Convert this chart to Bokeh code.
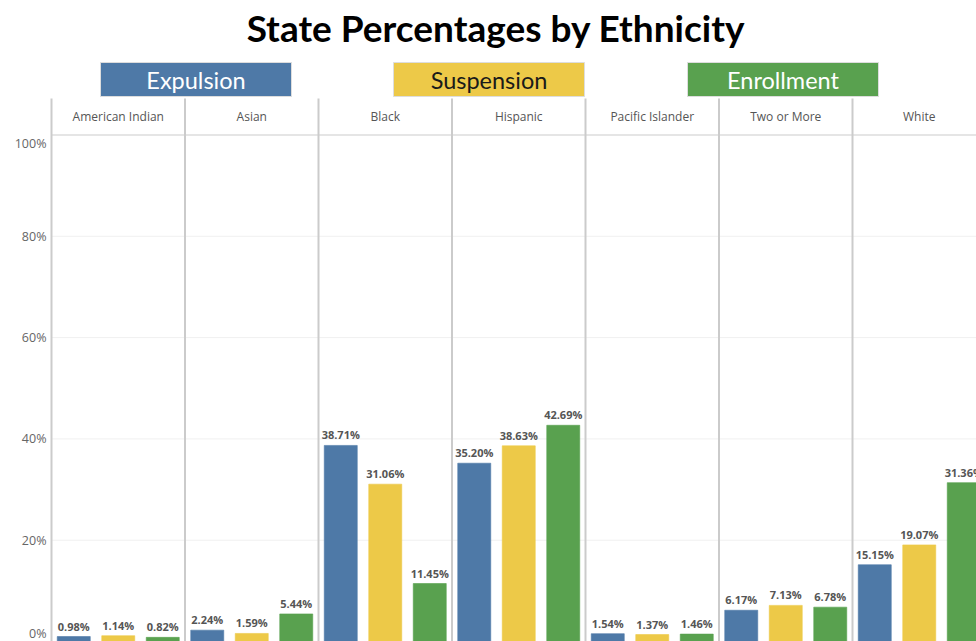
from bokeh.plotting import figure
from bokeh.models import Range1d, ColumnDataSource
from bokeh.embed import file_html
from bokeh.resources import INLINE
from bokeh.core.properties import value

# ---------------- data ----------------
ethnicities = ["American Indian", "Asian", "Black", "Hispanic",
               "Pacific Islander", "Two or More", "White"]
measures = ["Expulsion", "Suspension", "Enrollment"]
expulsion = [0.98, 2.24, 38.71, 35.20, 1.54, 6.17, 15.15]
suspension = [1.14, 1.59, 31.06, 38.63, 1.37, 7.13, 19.07]
enrollment = [0.82, 5.44, 11.45, 42.69, 1.46, 6.78, 31.36]
y_ticks = [0, 20, 40, 60, 80, 100]
y_tick_labels = [f"{t}%" for t in y_ticks]
title_text = "State Percentages by Ethnicity"

# ---------------- styles / layout ----------------
colors = ["#4e79a7", "#edc948", "#59a14f"]
legend_text_colors = ["#ffffff", "#1a1a1a", "#ffffff"]
W, H = 976, 641
PANEL_PX = 133.5          # width of one facet panel in px
LEFT_PX = 51              # distance from figure left to first panel
PX_PER_UNIT_Y = 5.065     # px per percent
TITLE_FONT = "Lato"
FONT = "Open Sans"

x_start = -LEFT_PX / PANEL_PX
x_end = x_start + W / PANEL_PX
y_end = H / PX_PER_UNIT_Y


def px_x(px):
    return (px - LEFT_PX) / PANEL_PX


def px_y(py):
    return (H - py) / PX_PER_UNIT_Y


p = figure(width=W, height=H, output_backend="svg", toolbar_location=None,
           x_range=Range1d(x_start, x_end), y_range=Range1d(0, y_end),
           min_border=0, background_fill_color="white",
           border_fill_color="white")
p.axis.visible = False
p.grid.visible = False
p.outline_line_color = None

n = len(ethnicities)
header_top = px_y(98)
header_mid = px_y(116)

# faint gridlines
for t in y_ticks[1:-1]:
    p.segment(x0=[0], y0=[t], x1=[x_end], y1=[t], line_color="#f0f0f0", line_width=1)
# header bottom line (100%)
p.segment(x0=[0], y0=[100], x1=[x_end], y1=[100], line_color="#dcdcdc", line_width=1.5)

# panel separators
seps = list(range(n + 1))
p.segment(x0=seps, y0=[0] * len(seps), x1=seps, y1=[header_top] * len(seps),
          line_color="#cbcbcb", line_width=2)

# bars and labels
series = [expulsion, suspension, enrollment]
bar_w = 33 / PANEL_PX
for k, (vals, col) in enumerate(zip(series, colors)):
    xs = [i + (k + 0.5) / 3 for i in range(n)]
    src = ColumnDataSource(dict(x=xs, top=vals, lab=[f"{v:.2f}%" for v in vals]))
    p.vbar(x="x", top="top", bottom=0, width=bar_w, source=src,
           fill_color=col, line_color=col, line_alpha=0.6)
    p.text(x="x", y="top", text="lab", source=src, text_align="center",
           text_baseline="bottom", y_offset=-3, text_font=value(FONT),
           text_font_size="11px", text_font_style="bold", text_color="#555555")

# facet headers
p.text(x=[i + 0.5 for i in range(n)], y=[header_mid] * n, text=ethnicities,
       text_align="center", text_baseline="middle", text_font=value(FONT),
       text_font_size="12px", text_color="#555555")

# y tick labels
lab_x = px_x(46)
for t, lab in zip(y_ticks, y_tick_labels):
    base = "top" if t == y_ticks[-1] else ("bottom" if t == y_ticks[0] else "middle")
    p.text(x=[lab_x], y=[t], text=[lab], text_align="right", text_baseline=base,
           text_font=value(FONT), text_font_size="12.5px", text_color="#666666")

# colour legend boxes
leg_x = [px_x(195.5), px_x(488.5), px_x(782.5)]
leg_y = px_y(79)
p.rect(x=leg_x, y=[leg_y] * 3, width=191, height=34, width_units="screen",
       height_units="screen", fill_color=colors, line_color="#dddddd", line_width=1)
p.text(x=leg_x, y=[leg_y] * 3, text=measures, text_align="center",
       text_baseline="middle", text_font=value(TITLE_FONT), text_font_size="23.5px",
       text_color=legend_text_colors)

# title
p.text(x=[px_x(495.5)], y=[px_y(27)], text=[title_text], text_align="center",
       text_baseline="middle", text_font=value(TITLE_FONT), text_font_size="37px",
       text_font_style="bold", text_color="#000000")

open("out.html", "w").write(file_html(p, INLINE))
